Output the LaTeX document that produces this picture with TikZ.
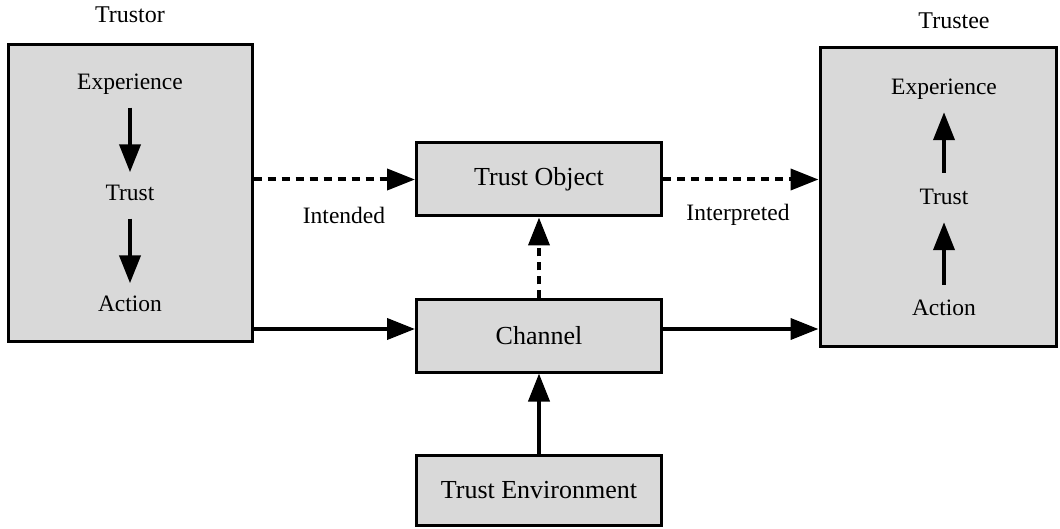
\documentclass[tikz,border=0pt]{standalone}
\usepackage{fontspec}
\setmainfont{Liberation Serif}
\usetikzlibrary{arrows.meta}
\begin{document}
\begin{tikzpicture}[x=1pt,y=-1pt,
  box/.style={draw=black, line width=3pt, fill={rgb,255:red,217;green,217;blue,217},
    inner sep=0pt, font=\fontsize{26}{30}\selectfont},
  lbl/.style={inner sep=0pt, text height=16pt, text depth=5pt,
    font=\fontsize{23.5}{28}\selectfont},
  toplbl/.style={inner sep=0pt, font=\fontsize{24}{28}\selectfont},
  link/.style={line width=4pt, -{Triangle[length=28pt,width=21pt]}},
  dotted link/.style={link, dash pattern=on 8pt off 6pt}]
\useasboundingbox (0,0) rectangle (1060,529);

% outer boxes for the two parties
\node[box, minimum width=244pt, minimum height=297pt] (tor) at (130,193) {};
\node[box, minimum width=236pt, minimum height=298pt] (tee) at (938,197) {};
\node[toplbl] (torlbl) at (130,15) {Trustor};
\node[toplbl] (teelbl) at (954,21) {Trustee};

% middle boxes
\node[box, minimum width=245pt, minimum height=73pt] (obj) at (539,179.5) {Trust Object};
\node[box, minimum width=245pt, minimum height=72pt] (chan) at (539,336) {Channel};
\node[box, minimum width=245pt, minimum height=70pt] (env) at (539,490) {Trust Environment};

% trustor chain
\node[lbl] (e1) at (130,84) {Experience};
\node[lbl] (t1) at (130,195) {Trust};
\node[lbl] (a1) at (130,306) {Action};
\draw[link, shorten <=13pt, shorten >=12pt] (e1.south) -- (t1.north);
\draw[link, shorten <=13pt, shorten >=12pt] (t1.south) -- (a1.north);

% trustee chain
\node[lbl] (e2) at (944,89) {Experience};
\node[lbl] (t2) at (944,199) {Trust};
\node[lbl] (a2) at (944,310) {Action};
\draw[link, shorten <=14.5pt, shorten >=12.5pt] (a2.north) -- (t2.south);
\draw[link, shorten <=15.5pt, shorten >=12.5pt] (t2.north) -- (e2.south);

% connectors between the boxes
\draw[dotted link] (tor.east |- obj.west) -- (obj.west);
\draw[dotted link] (obj.east) -- (tee.west |- obj.east);
\draw[link] ([yshift=7pt]tor.east |- chan.west) -- ([yshift=7pt]chan.west);
\draw[link] ([yshift=7pt]chan.east) -- ([yshift=7pt]tee.west |- chan.east);
\draw[dotted link] (chan.north) -- (obj.south);
\draw[link] (env.north) -- (chan.south);

% labels on the dotted connectors
\node[lbl] (intended) at (344,218) {Intended};
\node[lbl] (interpreted) at (738,215) {Interpreted};
\end{tikzpicture}
\end{document}
